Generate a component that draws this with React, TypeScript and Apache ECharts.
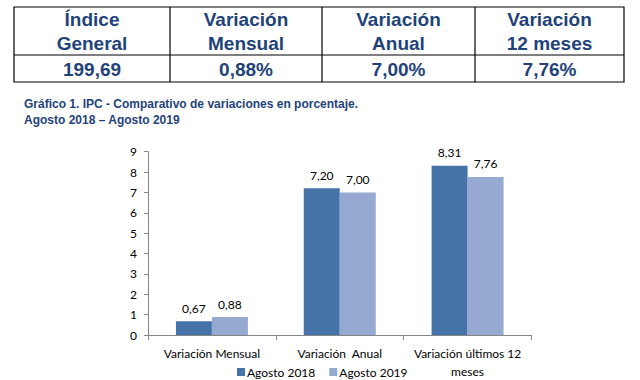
import React, { useEffect, useRef } from "react";
import * as echarts from "echarts";

const categories = ["Variación Mensual", "Variación  Anual", "Variación últimos 12\nmeses"];
const serie2018 = [0.67, 7.2, 8.31];
const serie2019 = [0.88, 7.0, 7.76];
const seriesNames = ["Agosto 2018", "Agosto 2019"];
const tableHeaders = ["Índice\nGeneral", "Variación\nMensual", "Variación\nAnual", "Variación\n12 meses"];
const tableValues = ["199,69", "0,88%", "7,00%", "7,76%"];
const titleLines = [
  "Gráfico 1. IPC - Comparativo de variaciones en porcentaje.",
  "Agosto 2018 – Agosto 2019",
];

const TEXT_BLUE = "#1F4379";
const CHART_FONT = "Lato";

export default function App() {
  const ref = useRef<HTMLDivElement>(null);
  useEffect(() => {
    if (!ref.current) return;
    const chart = echarts.init(ref.current, undefined, { renderer: "svg" });

    const tLeft = 14, tRight = 624, tTop = 7, tMid = 55, tBottom = 82;
    const colX = [14, 170, 322, 475, 624];
    const graphics: any[] = [];
    graphics.push({
      type: "rect",
      shape: { x: tLeft, y: tTop, width: tRight - tLeft, height: tBottom - tTop },
      style: { fill: "none", stroke: "#000", lineWidth: 1.2 },
    });
    graphics.push({
      type: "line",
      shape: { x1: tLeft, y1: tMid, x2: tRight, y2: tMid },
      style: { stroke: "#000", lineWidth: 1.2 },
    });
    for (let i = 1; i < colX.length - 1; i++) {
      graphics.push({
        type: "line",
        shape: { x1: colX[i], y1: tTop, x2: colX[i], y2: tBottom },
        style: { stroke: "#000", lineWidth: 1.2 },
      });
    }
    tableHeaders.forEach((h, i) => {
      const cx = (colX[i] + colX[i + 1]) / 2;
      graphics.push({
        type: "text",
        x: cx,
        y: (tTop + tMid) / 2,
        style: {
          text: h,
          fill: TEXT_BLUE,
          font: "bold 19px 'Liberation Sans', Arial, sans-serif",
          lineHeight: 24,
          align: "center",
          verticalAlign: "middle",
        },
      });
    });
    tableValues.forEach((v, i) => {
      const cx = (colX[i] + colX[i + 1]) / 2;
      graphics.push({
        type: "text",
        x: cx,
        y: (tMid + tBottom) / 2 + 1,
        style: {
          text: v,
          fill: TEXT_BLUE,
          font: "bold 19px 'Liberation Sans', Arial, sans-serif",
          align: "center",
          verticalAlign: "middle",
        },
      });
    });
    titleLines.forEach((t, i) => {
      graphics.push({
        type: "text",
        x: 24,
        y: 104 + i * 16,
        style: {
          text: t,
          fill: TEXT_BLUE,
          font: "bold 12px 'Liberation Sans', Arial, sans-serif",
          align: "left",
          verticalAlign: "middle",
        },
      });
    });

    const fmt = (p: any) => Number(p.value).toFixed(2).replace(".", ",");

    chart.setOption({
      animation: false,
      backgroundColor: "#ffffff",
      graphic: graphics,
      grid: { left: 148, right: 108.5, top: 151.7, bottom: 41.7, containLabel: false },
      legend: {
        data: seriesNames,
        left: 237,
        top: 366,
        icon: "rect",
        itemWidth: 8,
        itemHeight: 8,
        itemGap: 14,
        textStyle: { fontFamily: CHART_FONT, fontSize: 12, color: "#000", padding: [0, 0, 0, -3] },
        padding: 0,
      },
      xAxis: {
        type: "category",
        data: categories,
        axisLine: { lineStyle: { color: "#868686", width: 1 } },
        axisTick: { show: true, length: 5, lineStyle: { color: "#868686" } },
        axisLabel: {
          fontFamily: CHART_FONT,
          fontSize: 12,
          color: "#000",
          margin: 9,
          lineHeight: 18,
          interval: 0,
        },
      },
      yAxis: {
        type: "value",
        min: 0,
        max: 9,
        interval: 1,
        splitLine: { show: false },
        axisLine: { show: true, lineStyle: { color: "#868686", width: 1 } },
        axisTick: { show: true, length: 4, lineStyle: { color: "#868686" } },
        axisLabel: { fontFamily: CHART_FONT, fontSize: 12, color: "#000", margin: 11 },
      },
      series: [
        {
          name: seriesNames[0],
          type: "bar",
          data: serie2018,
          barWidth: 36,
          barGap: "0%",
          itemStyle: { color: "#4573A7" },
          label: { show: true, position: "top", distance: 7, formatter: fmt, fontFamily: CHART_FONT, fontSize: 12, color: "#000" },
        },
        {
          name: seriesNames[1],
          type: "bar",
          data: serie2019,
          barWidth: 36,
          barGap: "0%",
          itemStyle: { color: "#95A9D1" },
          label: { show: true, position: "top", distance: 7, formatter: fmt, fontFamily: CHART_FONT, fontSize: 12, color: "#000" },
        },
      ],
    });
    return () => chart.dispose();
  }, []);
  return (
    <div
      ref={ref}
      style={{ position: "fixed", left: 0, top: 0, width: 640, height: 380, background: "#fff" }}
    />
  );
}
